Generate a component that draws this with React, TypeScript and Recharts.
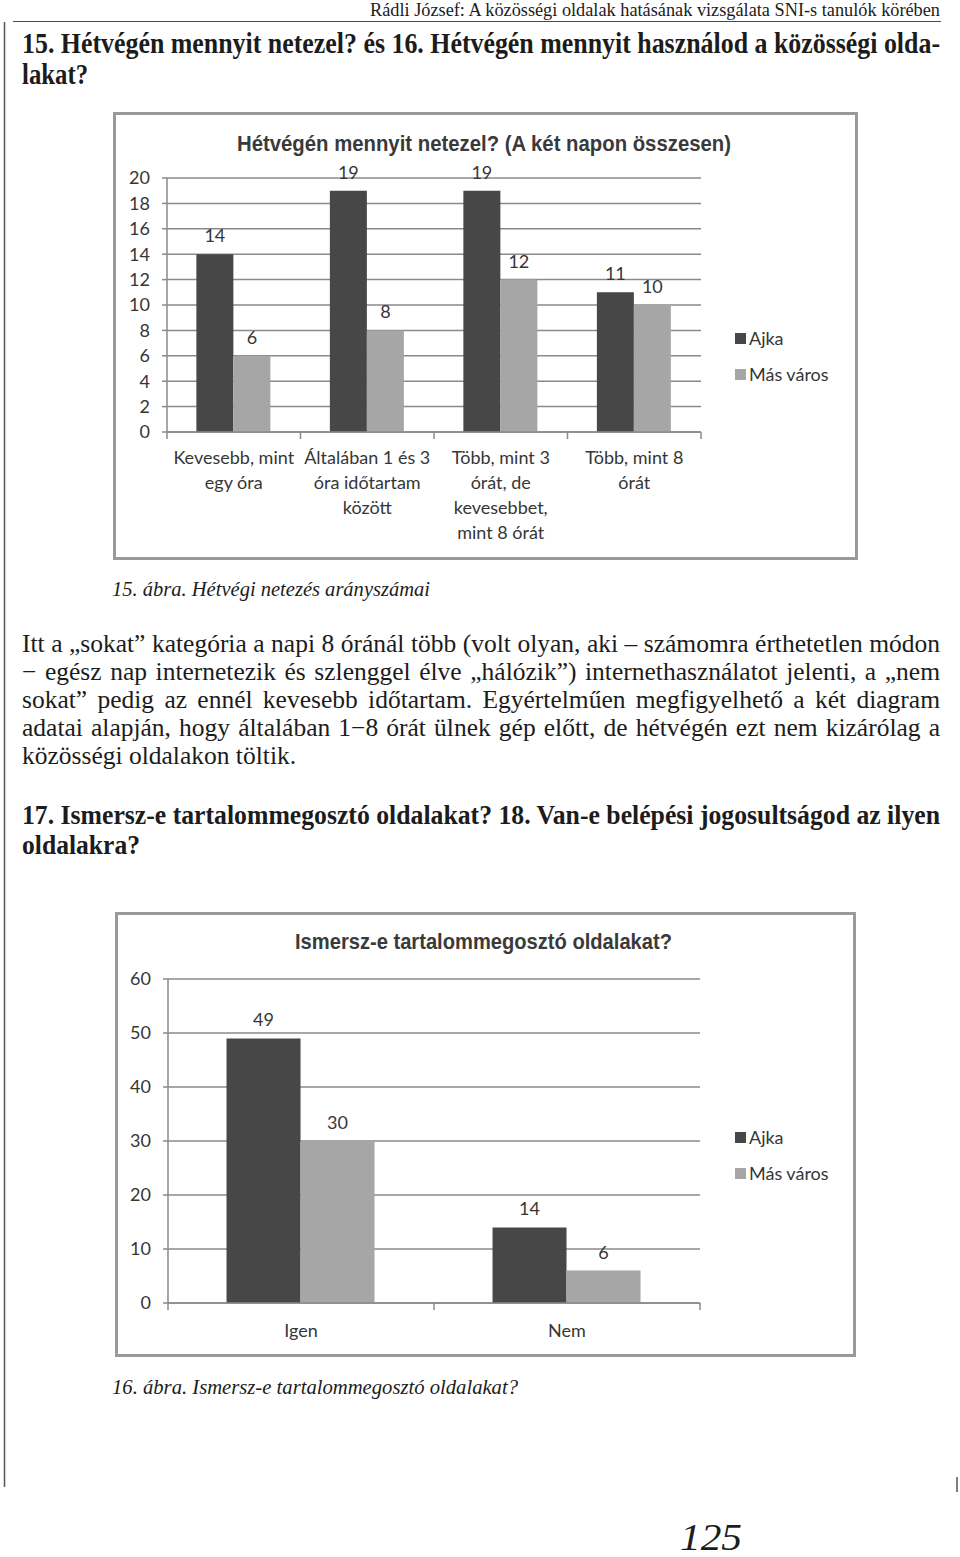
import React from 'react';
import { BarChart, Bar, XAxis, YAxis, CartesianGrid, Legend, LabelList } from 'recharts';

// 15. ábra – Hétvégén mennyit netezel?
const weekendCategories = [
  ['Kevesebb, mint', 'egy óra'],
  ['Általában 1 és 3', 'óra időtartam', 'között'],
  ['Több, mint 3', 'órát, de', 'kevesebbet,', 'mint 8 órát'],
  ['Több, mint 8', 'órát'],
];
const weekendAjka = [14, 19, 19, 11];
const weekendOther = [6, 8, 12, 10];
const weekendTicks = [0, 2, 4, 6, 8, 10, 12, 14, 16, 18, 20];

// 16. ábra – Ismersz-e tartalommegosztó oldalakat?
const shareCategories = [['Igen'], ['Nem']];
const shareAjka = [49, 14];
const shareOther = [30, 6];
const shareTicks = [0, 10, 20, 30, 40, 50, 60];

const seriesNames = ['Ajka', 'Más város'];
const seriesColors = ['#474747', '#a6a6a6'];

const paragraphLines = [
  'Itt a „sokat” kategória a napi 8 óránál több (volt olyan, aki – számomra érthetetlen módon',
  '− egész nap internetezik és szlenggel élve „hálózik”) internethasználatot jelenti, a „nem',
  'sokat” pedig az ennél kevesebb időtartam. Egyértelműen megfigyelhető a két diagram',
  'adatai alapján, hogy általában 1−8 órát ülnek gép előtt, de hétvégén ezt nem kizárólag a',
  'közösségi oldalakon töltik.',
];

const PAGE_FONT = "'Liberation Serif', 'DejaVu Serif', serif";
const CHART_FONT = "Lato, 'Open Sans', sans-serif";
const TITLE_FONT = "'Liberation Sans Narrow', 'Liberation Sans', Arial, sans-serif";
const INK = '#1c1c1c';
const CHART_INK = '#363636';
const GRID = '#8a8a8a';

const buildRows = (cats: string[][], a: number[], b: number[]) =>
  cats.map((lines, i) => ({ name: lines.join('\n'), ajka: a[i], other: b[i] }));

const weekendData = buildRows(weekendCategories, weekendAjka, weekendOther);
const shareData = buildRows(shareCategories, shareAjka, shareOther);

function CategoryTick(props: any) {
  const { x, y, payload, index, visibleTicksCount, firstDy, lineGap } = props;
  const lines = String(payload.value).split('\n');
  const half = payload.offset ?? 0;
  const isLast = index === visibleTicksCount - 1;
  return (
    <g>
      <line x1={x - half} x2={x - half} y1={y} y2={y + 7} stroke={GRID} strokeWidth={1.5} />
      {isLast && <line x1={x + half} x2={x + half} y1={y} y2={y + 7} stroke={GRID} strokeWidth={1.5} />}
      <text x={x} y={y} textAnchor="middle" fill={CHART_INK} fontSize={18} fontFamily={CHART_FONT}>
        {lines.map((l, i) => (
          <tspan key={i} x={x} dy={i === 0 ? firstDy : lineGap}>
            {l}
          </tspan>
        ))}
      </text>
    </g>
  );
}

function SeriesLegend({ payload }: any) {
  return (
    <div style={{ display: 'flex', flexDirection: 'column', gap: 18, fontFamily: CHART_FONT }}>
      {(payload || []).map((item: any) => (
        <div key={item.value} style={{ display: 'flex', alignItems: 'center', height: 18, fontSize: 18, color: CHART_INK }}>
          <span style={{ width: 11, height: 11, background: item.color, marginRight: 3, display: 'inline-block' }} />
          {item.value}
        </div>
      ))}
    </div>
  );
}

function ChartBox(props: {
  left: number; top: number; width: number; height: number;
  title: string; titleX: number; titleY: number; titleWidth: number;
  data: any[]; ticks: number[];
  margin: { top: number; right: number; bottom: number; left: number };
  yWidth: number; xHeight: number; firstDy: number; lineGap: number;
  legendLeft: number; legendTop: number;
}) {
  const p = props;
  return (
    <div
      style={{
        position: 'absolute', left: p.left, top: p.top, width: p.width, height: p.height,
        border: '3px solid #9a9a9a', background: '#fff',
      }}
    >
      <BarChart width={p.width} height={p.height} data={p.data} margin={p.margin} barCategoryGap="22%" barGap={0}>
        <CartesianGrid vertical={false} stroke={GRID} strokeWidth={1.5} />
        <XAxis
          dataKey="name"
          height={p.xHeight}
          tickSize={0}
          tickMargin={0}
          tickLine={false}
          axisLine={{ stroke: GRID, strokeWidth: 1.5 }}
          interval={0}
          tick={<CategoryTick firstDy={p.firstDy} lineGap={p.lineGap} />}
        />
        <YAxis
          width={p.yWidth}
          domain={[0, p.ticks[p.ticks.length - 1]]}
          ticks={p.ticks}
          interval={0}
          tickSize={5}
          tickMargin={12}
          axisLine={{ stroke: GRID, strokeWidth: 1.5 }}
          tickLine={{ stroke: GRID, strokeWidth: 1.5 }}
          tick={{ fill: CHART_INK, fontSize: 18, fontFamily: CHART_FONT }}
        />
        <Legend
          layout="vertical"
          align="center"
          verticalAlign="middle"
          wrapperStyle={{ left: p.legendLeft, top: p.legendTop, width: 130 }}
          content={<SeriesLegend />}
        />
        <Bar dataKey="ajka" name={seriesNames[0]} fill={seriesColors[0]} isAnimationActive={false}>
          <LabelList dataKey="ajka" position="top" offset={12} fill={CHART_INK} fontSize={18} fontFamily={CHART_FONT} />
        </Bar>
        <Bar dataKey="other" name={seriesNames[1]} fill={seriesColors[1]} isAnimationActive={false}>
          <LabelList dataKey="other" position="top" offset={12} fill={CHART_INK} fontSize={18} fontFamily={CHART_FONT} />
        </Bar>
      </BarChart>
      <svg style={{ position: 'absolute', left: 0, top: 0, pointerEvents: 'none' }} width={p.width} height={60}>
        <text
          x={p.titleX} y={p.titleY} fontSize={22} fontWeight={700} fontFamily={TITLE_FONT} fill="#3a3a3a"
          textLength={p.titleWidth} lengthAdjust="spacingAndGlyphs"
        >
          {p.title}
        </text>
      </svg>
    </div>
  );
}

function FitText(props: {
  x: number; y: number; w?: number; size: number; bold?: boolean; italic?: boolean; children: string; tall?: number;
}) {
  const stretch = props.tall || 1;
  return (
    <g transform={`translate(${props.x} ${props.y}) scale(1 ${stretch})`}>
      <text
        x={0} y={0} fontSize={props.size} fontWeight={props.bold ? 700 : 400}
        fontStyle={props.italic ? 'italic' : 'normal'} fill={INK}
        {...(props.w ? { textLength: props.w, lengthAdjust: 'spacingAndGlyphs' } : {})}
      >
        {props.children}
      </text>
    </g>
  );
}

export default function App() {
  return (
    <div style={{ position: 'absolute', left: 0, top: 0, width: 960, height: 1557, background: '#fff', overflow: 'hidden', fontFamily: PAGE_FONT }}>
      <svg style={{ position: 'absolute', left: 0, top: 0 }} width={960} height={1557} fontFamily={PAGE_FONT}>
        <FitText x={370} y={16} w={570} size={17} tall={1.06}>Rádli József: A közösségi oldalak hatásának vizsgálata SNI-s tanulók körében</FitText>
        <line x1={13} x2={941} y1={21.5} y2={21.5} stroke="#4a4a4a" strokeWidth={1.2} />
        <line x1={4.5} x2={4.5} y1={22} y2={1487} stroke="#555" strokeWidth={1.5} />
        <line x1={957} x2={957} y1={1477} y2={1492} stroke="#555" strokeWidth={1.5} />

        <FitText x={22} y={53} w={918} size={25} bold tall={1.14}>15. Hétvégén mennyit netezel? és 16. Hétvégén mennyit használod a közösségi olda-</FitText>
        <FitText x={22} y={84} w={66} size={25} bold tall={1.14}>lakat?</FitText>

        <FitText x={112} y={596} w={318} size={20} italic>15. ábra. Hétvégi netezés arányszámai</FitText>

        <FitText x={22} y={824} w={918} size={25} bold tall={1.1}>17. Ismersz-e tartalommegosztó oldalakat? 18. Van-e belépési jogosultságod az ilyen</FitText>
        <FitText x={22} y={854} w={118} size={25} bold tall={1.1}>oldalakra?</FitText>

        <FitText x={112} y={1394} w={406} size={20} italic>16. ábra. Ismersz-e tartalommegosztó oldalakat?</FitText>

        <FitText x={680} y={1550} w={62} size={38} italic>125</FitText>
      </svg>

      {paragraphLines.map((line, i) => (
        <div
          key={i}
          style={{
            position: 'absolute', left: 22, width: 918, top: 630 + i * 28, fontSize: 25.5, lineHeight: '28px',
            color: INK, textAlign: 'justify', textAlignLast: i < paragraphLines.length - 1 ? 'justify' : 'left',
            whiteSpace: 'nowrap', overflow: 'visible',
          }}
        >
          {line}
        </div>
      ))}

      <ChartBox
        left={113} top={112} width={739} height={442}
        title="Hétvégén mennyit netezel? (A két napon összesen)" titleX={121} titleY={36} titleWidth={494}
        data={weekendData} ticks={weekendTicks}
        margin={{ top: 63, right: 154, bottom: 5, left: 0 }}
        yWidth={51} xHeight={120} firstDy={32} lineGap={25}
        legendLeft={619} legendTop={214}
      />

      <ChartBox
        left={115} top={912} width={735} height={439}
        title="Ismersz-e tartalommegosztó oldalakat?" titleX={177} titleY={34} titleWidth={377}
        data={shareData} ticks={shareTicks}
        margin={{ top: 64, right: 153, bottom: 6, left: 0 }}
        yWidth={50} xHeight={45} firstDy={34} lineGap={25}
        legendLeft={617} legendTop={213}
      />
    </div>
  );
}
